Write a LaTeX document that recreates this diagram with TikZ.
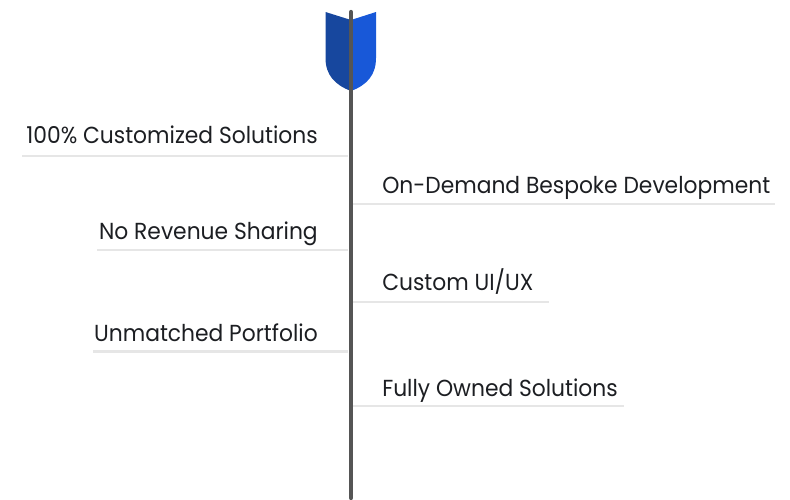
\documentclass[tikz,border=0pt]{standalone}
\usepackage{fontspec}
\setmainfont[FakeStretch=0.94]{Poppins}
\usetikzlibrary{positioning}
\definecolor{labelink}{HTML}{1C1E22}
\definecolor{rulegray}{HTML}{E6E6E6}
\definecolor{stemgray}{HTML}{555555}
\definecolor{vaneleft}{HTML}{17479E}
\definecolor{vaneright}{HTML}{1858D8}

\begin{document}
\begin{tikzpicture}[
    x=0.75pt, y=-0.75pt,
    leftlabel/.style={anchor=base east, inner sep=0pt, text=labelink, font=\fontsize{17.4pt}{21pt}\selectfont},
    rightlabel/.style={anchor=base west, inner sep=0pt, text=labelink, font=\fontsize{17.4pt}{21pt}\selectfont},
    rule/.style={draw=rulegray, line width=2.2pt},
    stem/.style={draw=stemgray, line width=3.2pt, line cap=round}
]
\useasboundingbox (0,0) rectangle (790,500);
% fletching
\fill[vaneleft] (325.5,12) -- (351,20) -- (351,91) .. controls (335,85) and (325.5,75) .. (325.5,58) -- cycle;
\fill[vaneright] (376,12) -- (351,20) -- (351,91) .. controls (367,85) and (376,75) .. (376,58) -- cycle;
% shaft
\coordinate (top) at (351,12);
\coordinate (bottom) at (351,498);
\draw[stem] (top) -- (bottom);
% left labels
\node[leftlabel] (customized) at (318,143) {100\% Customized Solutions};
\node[leftlabel] (revenue) at (318,239) {No Revenue Sharing};
\node[leftlabel] (portfolio) at (318,341) {Unmatched Portfolio};
% right labels
\node[rightlabel] (bespoke) at (382,193) {On-Demand Bespoke Development};
\node[rightlabel] (custom) at (382,290) {Custom UI/UX};
\node[rightlabel] (owned) at (382,396) {Fully Owned Solutions};
% rules under the labels
\coordinate (customizedA) at (22,156);
\coordinate (customizedB) at (348,156);
\coordinate (revenueA) at (97,250);
\coordinate (revenueB) at (348,250);
\coordinate (portfolioA) at (93,351.5);
\coordinate (portfolioB) at (348,351.5);
\coordinate (bespokeA) at (353,204);
\coordinate (bespokeB) at (775,204);
\coordinate (customA) at (353,302);
\coordinate (customB) at (549,302);
\coordinate (ownedA) at (353,406);
\coordinate (ownedB) at (624,406);
\draw[rule] (customizedA) -- (customizedB);
\draw[rule] (revenueA) -- (revenueB);
\draw[rule] (portfolioA) -- (portfolioB);
\draw[rule] (bespokeA) -- (bespokeB);
\draw[rule] (customA) -- (customB);
\draw[rule] (ownedA) -- (ownedB);
\end{tikzpicture}
\end{document}
